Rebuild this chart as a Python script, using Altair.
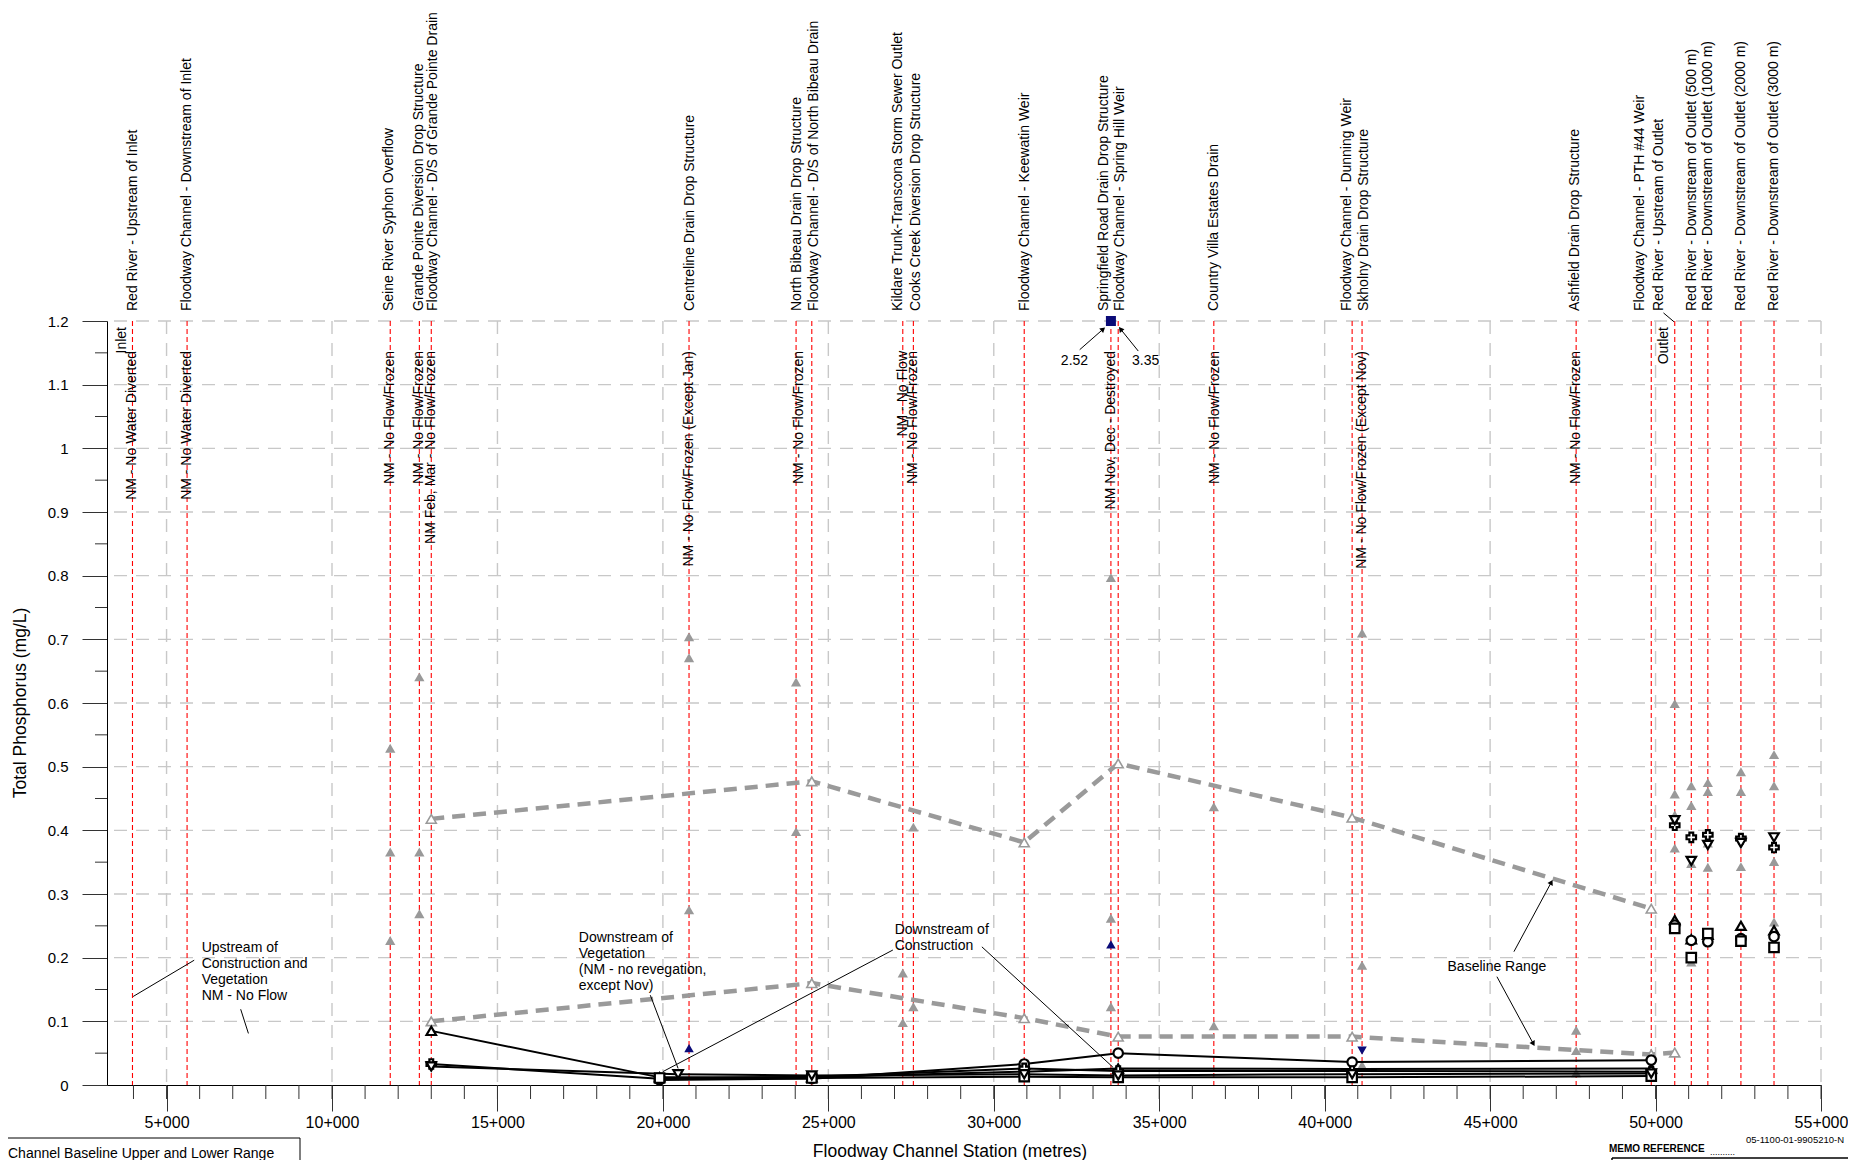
import math
import altair as alt
import pandas as pd

# ---------------- layout ----------------
W, H = 1714, 764
X_MIN, X_MAX = 3200, 55000
Y_MAX = 1.2
FONT = "Liberation Sans, Arial, sans-serif"

# ---------------- data ----------------
site_names = [
    "Red River - Upstream of Inlet",
    "Floodway Channel -  Downstream of Inlet",
    "Seine River Syphon Overflow",
    "Grande Pointe Diversion Drop Structure",
    "Floodway Channel - D/S of Grande Pointe Drain",
    "Centreline Drain Drop Structure",
    "North Bibeau Drain Drop Structure",
    "Floodway Channel - D/S of North Bibeau Drain",
    "Kildare Trunk-Transcona Storm Sewer Outlet",
    "Cooks Creek Diversion Drop Structure",
    "Floodway Channel - Keewatin Weir",
    "Springfield Road Drain Drop Structure",
    "Floodway Channel - Spring Hill Weir",
    "Country Villa Estates Drain",
    "Floodway Channel - Dunning Weir",
    "Skholny Drain Drop Structure",
    "Ashfield Drain Drop Structure",
    "Floodway Channel - PTH #44 Weir",
    "Red River - Upstream of Outlet",
    "Red River - Downstream of Outlet (500 m)",
    "Red River - Downstream of Outlet (1000 m)",
    "Red River - Downstream of Outlet (2000 m)",
    "Red River - Downstream of Outlet (3000 m)",
]
# station of each site (red line)
site_stations = [3970, 5620, 11760, 12640, 13000, 20790, 24025, 24500, 27250, 27570,
                 30920, 33540, 33760, 36650, 40830, 41130, 47600, 49870, 50580,
                 51080, 51580, 52580, 53580]
# station at which each site's name is written above the chart
label_stations = [3986, 5606, 11732, 12623, 13052, 20810, 24047, 24567, 27112, 27635,
                  30929, 33322, 33821, 36644, 40669, 41183, 47560, 49543, 50110,
                  51095, 51600, 52597, 53583]

nm_texts = [
    "NM - No Water Diverted", "NM - No Water Diverted", "NM - No Flow/Frozen",
    "NM - No Flow/Frozen", "NM Feb, Mar - No Flow/Frozen",
    "NM - No Flow/Frozen (Except Jan)", "NM - No Flow/Frozen", "NM - No Flow",
    "NM - No Flow/Frozen", "NM Nov, Dec - Destroyed", "NM - No Flow/Frozen",
    "NM - No Flow/Frozen (Except Nov)", "NM - No Flow/Frozen",
]
nm_stations = [3970, 5620, 11760, 12640, 13000, 20790, 24100, 27250, 27570,
               33540, 36700, 41130, 47600]

# baseline range (upper / lower)
upper_stations = [13000, 24500, 30920, 33760, 40830, 49870]
upper_values = [0.418, 0.477, 0.381, 0.505, 0.420, 0.277]
lower_stations = [13000, 24500, 30920, 33760, 40830, 49870, 50580]
lower_values = [0.100, 0.160, 0.105, 0.076, 0.076, 0.048, 0.051]

# individual baseline samples (grey filled triangles)
sample_stations = [11760, 12640, 20790, 24025, 27250, 27570, 33540, 36650, 41130,
                   47600, 50580, 51080, 51580, 52580, 53580]
sample_values = [
    [0.529, 0.366, 0.227],
    [0.641, 0.366, 0.269],
    [0.704, 0.671, 0.275],
    [0.633, 0.398],
    [0.176, 0.098],
    [0.405, 0.123],
    [0.797, 0.262, 0.123],
    [0.437, 0.093],
    [0.710, 0.188, 0.031],
    [0.086, 0.054, 0.019],
    [0.599, 0.457, 0.424, 0.372],
    [0.470, 0.439, 0.348, 0.193],
    [0.475, 0.461, 0.380, 0.342],
    [0.492, 0.461, 0.343],
    [0.519, 0.470, 0.351, 0.256],
]

# monitoring series along the channel (connected) and in the river (points)
series_names = ["Series 1", "Series 2", "Series 3", "Series 4", "Series 5"]
channel_st = [
    [13000, 19900, 24500, 30920, 33760, 40830, 49870],
    [19900, 24500, 30920, 33760, 40830, 49870],
    [13000, 19900, 24500, 30920, 33760, 40830, 49870],
    [19900, 24500, 30920, 33760, 40830, 49870],
    [13000, 20460, 24500, 30920, 33760, 40830, 49870],
]
channel_val = [
    [0.085, 0.012, 0.012, 0.021, 0.026, 0.025, 0.026],
    [0.008, 0.010, 0.033, 0.050, 0.036, 0.039],
    [0.033, 0.010, 0.013, 0.026, 0.022, 0.022, 0.021],
    [0.011, 0.011, 0.013, 0.012, 0.012, 0.014],
    [0.029, 0.017, 0.015, 0.017, 0.015, 0.017, 0.018],
]
river_st = [50580, 51080, 51580, 52580, 53580]
river_val = [
    [0.259, 0.229, 0.236, 0.250, 0.243],
    [0.251, 0.227, 0.225, 0.230, 0.233],
    [0.408, 0.389, 0.393, 0.387, 0.373],
    [0.246, 0.200, 0.238, 0.226, 0.216],
    [0.416, 0.352, 0.377, 0.380, 0.389],
]
series_shapes = ["triangle-up", "circle", "cross", "square", "triangle-down"]

# tributary samples (navy)
trib_stations = [20790, 33540, 41130, 33540]
trib_values = [0.058, 0.221, 0.054, 1.2]
trib_kind = ["up", "up", "down", "off-scale"]

# annotation texts
ann_blocks = [
    (["Upstream of", "Construction and", "Vegetation", "NM - No Flow"], 6060, 0.2153),
    (["Downstream of", "Vegetation", "(NM - no revegation,", "except Nov)"], 17458, 0.2304),
    (["Downstream of", "Construction"], 27004, 0.2434),
    (["Baseline Range"], 43713, 0.1858),
]
ann_values = [("2.52", 32439, 1.137), ("3.35", 34591, 1.137)]
leaders = [  # x1, y1, x2, y2
    (5835, 0.196, 3990, 0.139),
    (7240, 0.119, 7474, 0.081),
    (19620, 0.141, 20460, 0.026),
    (26950, 0.212, 20000, 0.021),
    (29640, 0.217, 33600, 0.028),
    (50240, 1.2127, 50557, 1.1988),
]
arrows = [
    (45720, 0.2094, 46838, 0.3173),
    (45206, 0.1701, 46294, 0.066),
    (32596, 1.1549, 33285, 1.1863),
    (34367, 1.1528, 33847, 1.1863),
]

# ---------------- helpers ----------------
def px(s):
    return (s - X_MIN) / (X_MAX - X_MIN) * W

def py(v):
    return H - v / Y_MAX * H

LINE_STEP = 16 / H * Y_MAX

xs = alt.Scale(domain=[X_MIN, X_MAX], nice=False, zero=False)
ys = alt.Scale(domain=[0, Y_MAX], nice=False, zero=True)
x_axis = alt.Axis(values=list(range(5000, 55001, 5000)),
                  labelExpr="format(datum.value/1000,'d') + '+000'",
                  tickSize=26, labelPadding=3, grid=False, title=None,
                  domainColor="black", domainWidth=1, tickColor="#333333",
                  labelFont=FONT, labelFontSize=16, labelColor="black",
                  labelOverlap=False, labelFlush=False)
y_axis = alt.Axis(values=[round(i * 0.1, 1) for i in range(13)], format="~g",
                  tickSize=25, labelPadding=14, grid=False, title=None,
                  domainColor="black", domainWidth=1, tickColor="#333333",
                  labelFont=FONT, labelFontSize=15, labelColor="black")

def X(f="x"):
    return alt.X(f"{f}:Q", scale=xs, axis=x_axis)

def Y(f="y"):
    return alt.Y(f"{f}:Q", scale=ys, axis=y_axis)

one = pd.DataFrame({"k": [0]})

# ---------------- frames ----------------
grid_h = pd.DataFrame({"y": [round(i * 0.1, 1) for i in range(1, 13)]})
grid_v = pd.DataFrame({"x": list(range(5000, 55001, 5000))})
minor_x = pd.DataFrame({"x": list(range(4000, 55001, 1000))})
minor_y = pd.DataFrame({"y": [round(0.05 + 0.1 * i, 2) for i in range(12)]})
sites = pd.DataFrame({"x": site_stations, "name": site_names})
site_labels = pd.DataFrame({"x": label_stations, "name": site_names})
nm = pd.DataFrame({"x": nm_stations, "text": nm_texts})

rng = pd.DataFrame(
    [{"x": s, "y": v, "r": "upper"} for s, v in zip(upper_stations, upper_values)]
    + [{"x": s, "y": v, "r": "lower"} for s, v in zip(lower_stations, lower_values)]
)
samples = pd.DataFrame([{"x": s, "y": v} for s, vs in zip(sample_stations, sample_values) for v in vs])

chan_rows, riv_rows = [], []
for name, sts, vals in zip(series_names, channel_st, channel_val):
    for s, v in zip(sts, vals):
        chan_rows.append({"x": s, "y": v, "series": name})
for name, vals in zip(series_names, river_val):
    for s, v in zip(river_st, vals):
        riv_rows.append({"x": s, "y": v, "series": name})
chan = pd.DataFrame(chan_rows)
allpts = pd.DataFrame(chan_rows + riv_rows)

trib = pd.DataFrame({"x": trib_stations, "y": trib_values, "kind": trib_kind})

ann_rows = []
for lines, x0, y0 in ann_blocks:
    for i, t in enumerate(lines):
        ann_rows.append({"x": x0, "y": y0 - i * LINE_STEP, "text": t})
ann = pd.DataFrame(ann_rows)
annv = pd.DataFrame([{"x": x, "y": y, "text": t} for t, x, y in ann_values])
lead = pd.DataFrame([{"x": a, "y": b, "x2": c, "y2": d} for a, b, c, d in leaders + arrows])
heads = pd.DataFrame([
    {"x": c, "y": d,
     "ang": math.degrees(math.atan2(px(c) - px(a), -(py(d) - py(b)))) % 360}
    for a, b, c, d in arrows
])

# ---------------- layers ----------------
gridc = "#c8c8c8"
l_grid_h = alt.Chart(grid_h).mark_rule(color=gridc, strokeDash=[13, 9], strokeWidth=1.4).encode(y=Y())
l_grid_v = alt.Chart(grid_v).mark_rule(color=gridc, strokeDash=[13, 9], strokeWidth=1.4).encode(x=X())
l_minor_x = alt.Chart(minor_x).mark_rule(color="#333333", strokeWidth=1).encode(
    x=X(), y=alt.value(H), y2=alt.value(H + 14))
l_minor_y = alt.Chart(minor_y).mark_rule(color="#333333", strokeWidth=1).encode(
    y=Y(), x=alt.value(-12), x2=alt.value(0))
l_red = alt.Chart(sites).mark_rule(color="#ff0000", strokeDash=[5, 3], strokeWidth=1.1).encode(x=X())
l_sites = alt.Chart(site_labels).mark_text(angle=270, align="left", baseline="middle", font=FONT,
                                           fontSize=14, color="black").encode(
    x=X(), y=alt.value(-10), text="name:N")
l_nm = alt.Chart(nm).mark_text(angle=270, align="right", baseline="middle", font=FONT,
                               fontSize=14, color="black").encode(
    x=X(), y=alt.value(30), text="text:N")
l_io = alt.Chart(pd.DataFrame({"x": [3665, 50255], "text": ["Inlet", "Outlet"]})).mark_text(
    angle=270, align="right", baseline="middle", font=FONT, fontSize=14, color="black").encode(
    x=X(), y=alt.value(6), text="text:N")

l_range = alt.Chart(rng).mark_line(color="#9a9a9a", strokeWidth=4.5, strokeDash=[13, 8]).encode(
    x=X(), y=Y(), detail="r:N")
l_range_pts = alt.Chart(rng).mark_point(shape="triangle-up", filled=True, fill="white",
                                        stroke="#9a9a9a", strokeWidth=1.6, size=100, opacity=1).encode(
    x=X(), y=Y())
l_samples = alt.Chart(samples).mark_point(shape="triangle-up", filled=True, color="#999999",
                                          size=105, opacity=1).encode(x=X(), y=Y())

l_lines = alt.Chart(chan).mark_line(color="black", strokeWidth=2).encode(
    x=X(), y=Y(), detail="series:N")
l_pts = alt.Chart(allpts).mark_point(filled=True, fill="white", stroke="black", strokeWidth=2.2,
                                     size=90, opacity=1).encode(
    x=X(), y=Y(),
    shape=alt.Shape("series:N", scale=alt.Scale(domain=series_names, range=series_shapes), legend=None))

NAVY = "#0b0b78"
l_trib_up = alt.Chart(trib).transform_filter(alt.datum.kind == "up").mark_point(
    shape="triangle-up", filled=True, color=NAVY, size=90, opacity=1).encode(x=X(), y=Y())
l_trib_down = alt.Chart(trib).transform_filter(alt.datum.kind == "down").mark_point(
    shape="triangle-down", filled=True, color=NAVY, size=90, opacity=1).encode(x=X(), y=Y())
l_trib_off = alt.Chart(trib).transform_filter(alt.datum.kind == "off-scale").mark_point(
    shape="square", filled=True, color=NAVY, size=100, opacity=1).encode(x=X(), y=Y())

l_ann = alt.Chart(ann).mark_text(align="left", baseline="middle", font=FONT, fontSize=14,
                                 color="black").encode(x=X(), y=Y(), text="text:N")
l_annv = alt.Chart(annv).mark_text(align="center", baseline="middle", font=FONT, fontSize=14,
                                   color="black").encode(x=X(), y=Y(), text="text:N")
l_lead = alt.Chart(lead).mark_rule(color="black", strokeWidth=1).encode(
    x=X(), y=Y(), x2="x2:Q", y2="y2:Q")
l_heads = alt.Chart(heads).mark_point(shape="triangle", filled=True, color="black", size=35,
                                      opacity=1).encode(x=X(), y=Y(), angle=alt.Angle("ang:Q", scale=None))

# axis titles
l_ytitle = alt.Chart(one).mark_text(angle=270, align="center", baseline="middle", font=FONT,
                                    fontSize=17.5, color="black", text="Total Phosphorus (mg/L)").encode(
    x=alt.value(-86), y=alt.value(H / 2))
l_xtitle = alt.Chart(one).mark_text(align="center", baseline="middle", font=FONT, fontSize=17.5,
                                    color="black", text="Floodway Channel Station (metres)").encode(
    x=alt.value(843), y=alt.value(831))

# partially visible page furniture below the chart
l_box1 = alt.Chart(one).mark_rule(color="black", strokeWidth=1).encode(
    x=alt.value(-99), x2=alt.value(193), y=alt.value(817))
l_box1v = alt.Chart(one).mark_rule(color="black", strokeWidth=1).encode(
    x=alt.value(193), y=alt.value(817), y2=alt.value(900))
l_box1t = alt.Chart(one).mark_text(align="left", baseline="middle", font=FONT, fontSize=14,
                                   color="black", text="Channel Baseline Upper and Lower Range").encode(
    x=alt.value(-99), y=alt.value(833))
l_memo = alt.Chart(one).mark_text(align="left", baseline="middle", font=FONT, fontSize=10,
                                  fontWeight="bold", color="black", text="MEMO REFERENCE").encode(
    x=alt.value(1502), y=alt.value(828))
l_memo_dots = alt.Chart(one).mark_text(align="left", baseline="middle", font=FONT, fontSize=9,
                                       color="black", text="..........").encode(
    x=alt.value(1603), y=alt.value(831))
l_memo_no = alt.Chart(one).mark_text(align="left", baseline="middle", font=FONT, fontSize=9.5,
                                     color="black", text="05-1100-01-9905210-N").encode(
    x=alt.value(1639), y=alt.value(819))
l_memo_box = alt.Chart(one).mark_rule(color="black", strokeWidth=1.5).encode(
    x=alt.value(1505), x2=alt.value(1760), y=alt.value(837))
l_memo_boxv = alt.Chart(one).mark_rule(color="black", strokeWidth=1.5).encode(
    x=alt.value(1505), y=alt.value(837), y2=alt.value(900))

chart = alt.layer(
    l_grid_h, l_grid_v, l_minor_x, l_minor_y, l_red,
    l_range, l_range_pts, l_samples,
    l_lines, l_pts, l_trib_up, l_trib_down, l_trib_off,
    l_lead, l_heads, l_ann, l_annv,
    l_sites, l_nm, l_io,
    l_ytitle, l_xtitle,
    l_box1, l_box1v, l_box1t, l_memo, l_memo_dots, l_memo_no, l_memo_box, l_memo_boxv,
).properties(
    width=W, height=H,
    autosize=alt.AutoSizeParams(type="none"),
    padding={"left": 99, "top": 313, "right": 27, "bottom": 75},
    background="white",
).configure_view(stroke=None)

chart.save("out.html", embed_options={"renderer": "svg", "actions": False})
